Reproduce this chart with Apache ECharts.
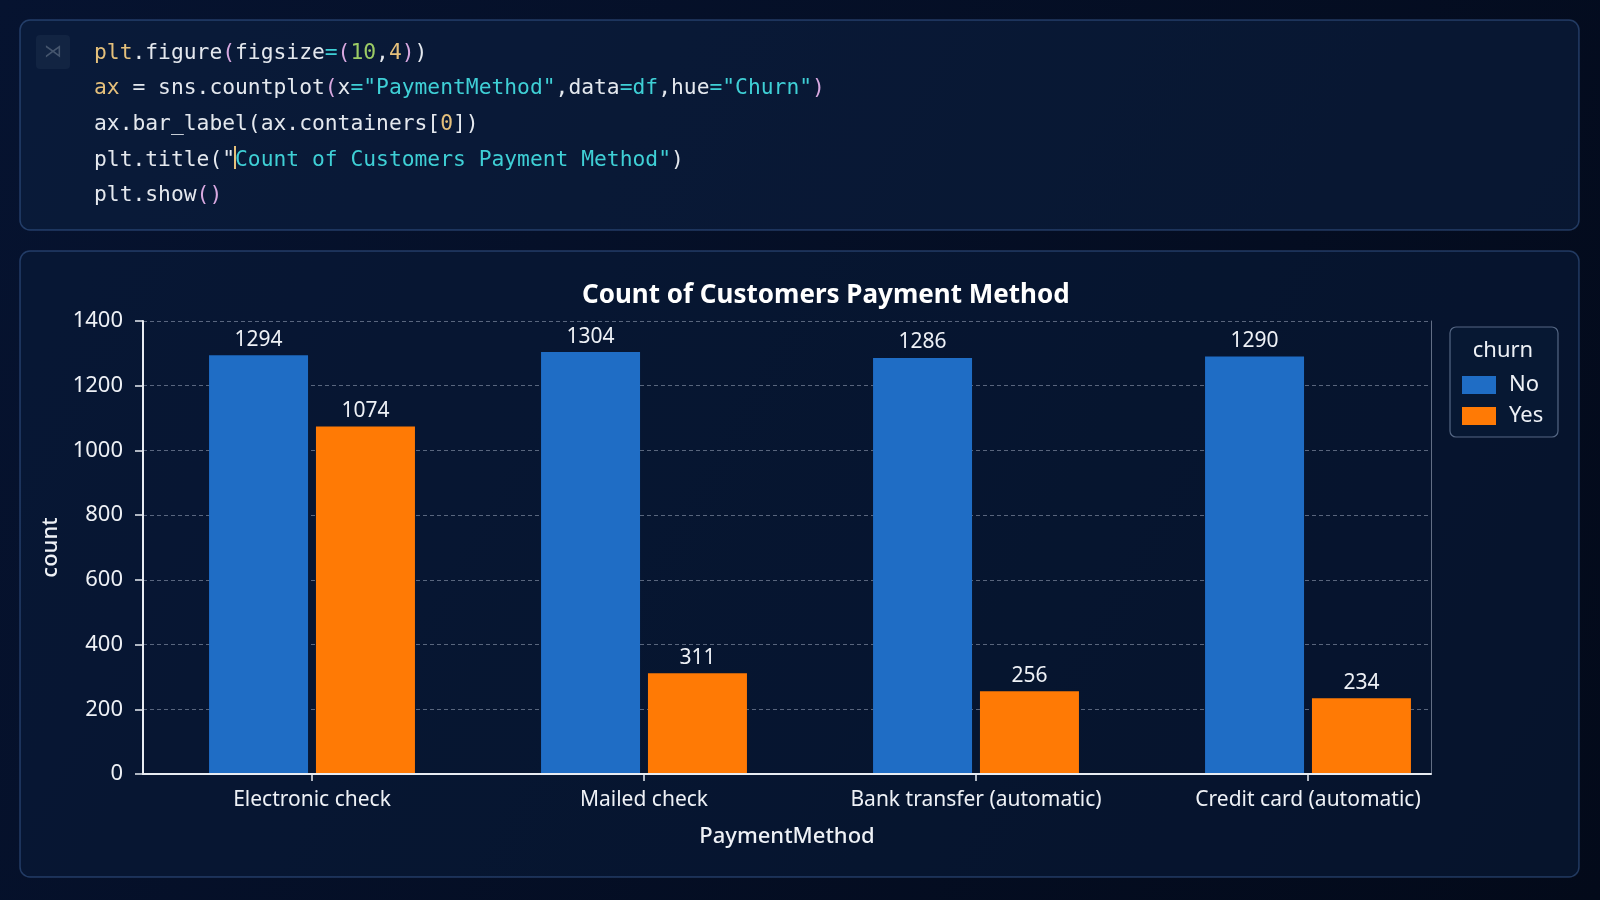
<!DOCTYPE html>
<html>
<head>
<meta charset="utf-8">
<title>Count of Customers Payment Method</title>
<script src="https://cdn.jsdelivr.net/npm/echarts@6/dist/echarts.min.js"></script>
<style>
  html, body { margin: 0; padding: 0; background: #040d20; }
  #chartContainer { width: 1600px; height: 900px; }
</style>
</head>
<body>
<div id="chartContainer"></div>
<script>
var categories = ['Electronic check', 'Mailed check', 'Bank transfer (automatic)', 'Credit card (automatic)'];
var churnNo = [1294, 1304, 1286, 1290];
var churnYes = [1074, 311, 256, 234];
var yTicks = { min: 0, max: 1400, interval: 200 };

// code cell lines, [style, text] tokens
var codeLines = [
  [['y', 'plt'], ['w', '.figure'], ['p', '('], ['w', 'figsize'], ['c', '='], ['p', '('], ['g', '10'], ['w', ','], ['y', '4'], ['p', ')'], ['w', ')']],
  [['y', 'ax'], ['w', ' = sns.countplot'], ['p', '('], ['w', 'x'], ['c', '="PaymentMethod"'], ['w', ',data'], ['c', '=df'], ['w', ',hue'], ['c', '="Churn"'], ['p', ')']],
  [['w', 'ax.bar_label(ax.containers['], ['y', '0'], ['w', '])']],
  [['w', 'plt.title("'], ['c', 'Count of Customers Payment Method"'], ['w', ')']],
  [['w', 'plt.show'], ['p', '()']]
];

function drawPaymentChart() {
  var chart = echarts.init(document.getElementById('chartContainer'));
  var textColor = '#eef1f6';
  var sans = '"Noto Sans", sans-serif';
  var mono = 'DejaVu Sans Mono';

  var codeGraphics = codeLines.map(function (line, i) {
    return {
      type: 'text',
      x: 94,
      y: 53 + i * 35.7,
      style: {
        text: line.map(function (t) { return '{' + t[0] + '|' + t[1] + '}'; }).join(''),
        font: '21.3px "DejaVu Sans Mono", monospace',
        verticalAlign: 'middle',
        rich: {
          w: { fill: '#e4e8ee', fontSize: 21.3, fontFamily: mono },
          y: { fill: '#e5c07b', fontSize: 21.3, fontFamily: mono },
          c: { fill: '#3fd0d6', fontSize: 21.3, fontFamily: mono },
          g: { fill: '#9ccc65', fontSize: 21.3, fontFamily: mono },
          p: { fill: '#d8a8e0', fontSize: 21.3, fontFamily: mono }
        }
      },
      z: 10
    };
  });

  chart.setOption({
    backgroundColor: {
      type: 'linear', x: 0, y: 0, x2: 1, y2: 1,
      colorStops: [{ offset: 0, color: '#061330' }, { offset: 1, color: '#030a1a' }]
    },
    textStyle: { fontFamily: sans },
    graphic: [
      {
        type: 'rect', shape: { x: 20, y: 20, width: 1559, height: 210, r: 10 },
        style: { fill: 'rgba(12,32,66,0.55)', stroke: 'rgba(70,110,170,0.45)', lineWidth: 1.5 }, z: -5
      },
      {
        type: 'rect', shape: { x: 20, y: 251, width: 1559, height: 626, r: 10 },
        style: { fill: 'rgba(8,26,56,0.6)', stroke: 'rgba(70,110,170,0.45)', lineWidth: 1.5 }, z: -5
      },
      {
        type: 'rect', shape: { x: 36, y: 35, width: 34, height: 34, r: 4 },
        style: { fill: 'rgba(40,60,90,0.3)' }, z: -4
      },
      {
        type: 'text', x: 53, y: 52,
        style: { text: '⋊', font: '18px "DejaVu Sans"', fill: '#46566e', align: 'center', verticalAlign: 'middle' }, z: 3
      },
      {
        // typing cursor inside plt.title("
        type: 'rect', shape: { x: 234, y: 146, width: 2, height: 23 },
        style: { fill: '#e5c07b' }, z: 11
      },
      {
        type: 'rect', shape: { x: 1450, y: 327, width: 108, height: 110, r: 6 },
        style: { fill: 'rgba(8,24,52,0.9)', stroke: 'rgba(150,170,200,0.55)', lineWidth: 1.2 }, z: -3
      },
      {
        type: 'text', x: 1503, y: 351,
        style: { text: 'churn', font: '22px "Noto Sans"', fill: textColor, align: 'center', verticalAlign: 'middle' }, z: 3
      }
    ].concat(codeGraphics),
    title: {
      text: 'Count of Customers Payment Method',
      left: 582,
      top: 283,
      padding: 0,
      textStyle: { color: '#ffffff', fontSize: 26, fontWeight: 'bold', fontFamily: sans }
    },
    legend: {
      data: ['No', 'Yes'],
      orient: 'vertical',
      left: 1462,
      top: 374,
      padding: 0,
      itemWidth: 34,
      itemHeight: 18,
      itemGap: 9,
      icon: 'rect',
      textStyle: { color: textColor, fontSize: 22, padding: [0, 0, 0, 8] }
    },
    grid: [
      { left: 143, right: 169, top: 321, bottom: 126 },
      { left: 146, right: 126, top: 321, bottom: 126 }
    ],
    xAxis: [
      {
        type: 'category', gridIndex: 0, data: categories, z: 5,
        axisLine: { lineStyle: { color: '#e8ecf2', width: 2 } },
        axisTick: { show: false },
        axisLabel: { show: false },
        name: 'PaymentMethod', nameLocation: 'middle', nameGap: 52,
        nameTextStyle: { color: textColor, fontSize: 22, fontWeight: 500 }
      },
      {
        type: 'category', gridIndex: 1, data: categories,
        axisLine: { show: false },
        axisTick: { show: true, alignWithLabel: true, length: 7, lineStyle: { color: '#e8ecf2', width: 1.5 } },
        axisLabel: { color: textColor, fontSize: 21, margin: 16 }
      }
    ],
    yAxis: [
      {
        type: 'value', gridIndex: 0, min: yTicks.min, max: yTicks.max, interval: yTicks.interval,
        axisLine: { show: true, lineStyle: { color: '#e8ecf2', width: 2 } },
        axisTick: { show: true, length: 8, lineStyle: { color: '#e8ecf2', width: 1.5 } },
        axisLabel: { color: textColor, fontSize: 22, margin: 20, formatter: function (v) { return String(v); } },
        splitLine: { lineStyle: { color: 'rgba(190,200,220,0.45)', type: [4, 3], width: 1 } },
        name: 'count', nameLocation: 'middle', nameGap: 70,
        nameTextStyle: { color: textColor, fontSize: 22, fontWeight: 500 }
      },
      {
        type: 'value', gridIndex: 0, position: 'right', min: yTicks.min, max: yTicks.max, interval: yTicks.interval,
        axisLine: { show: true, lineStyle: { color: 'rgba(190,200,220,0.5)', width: 1 } },
        axisTick: { show: false }, axisLabel: { show: false }, splitLine: { show: false }
      },
      {
        type: 'value', gridIndex: 1, min: yTicks.min, max: yTicks.max, interval: yTicks.interval, show: false
      }
    ],
    series: [
      {
        name: 'No', type: 'bar', xAxisIndex: 1, yAxisIndex: 2, data: churnNo,
        barWidth: 99, barGap: '8%',
        itemStyle: { color: '#1f6dc5' },
        label: { show: true, position: 'top', distance: 5, color: textColor, fontSize: 21 }
      },
      {
        name: 'Yes', type: 'bar', xAxisIndex: 1, yAxisIndex: 2, data: churnYes,
        barWidth: 99,
        itemStyle: { color: '#ff7a05' },
        label: { show: true, position: 'top', distance: 5, color: textColor, fontSize: 21 }
      }
    ]
  });

  window.addEventListener('resize', function () {
    chart.resize();
  });
}

drawPaymentChart();
</script>
</body>
</html>
